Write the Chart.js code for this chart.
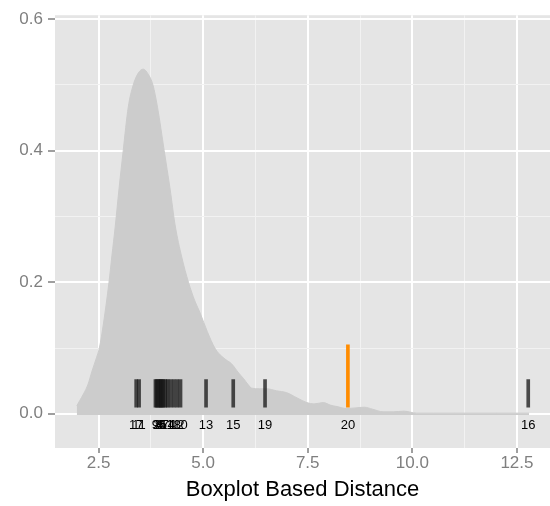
<!DOCTYPE html>
<html><head><meta charset="utf-8">
<script src="https://cdn.jsdelivr.net/npm/chart.js@4.4.0/dist/chart.umd.min.js"></script>
<style>html,body{margin:0;padding:0;background:#fff;} #wrap{width:550px;height:506px;}</style>
</head><body><div id="wrap"><canvas id="c" width="550" height="506"></canvas></div>
<script>
// ---- data ----
const densityX = [1.98, 2.05, 2.14, 2.25, 2.34, 2.45, 2.52, 2.62, 2.75, 2.82, 2.90, 2.99, 3.09, 3.21, 3.33, 3.45, 3.57, 3.68, 3.80, 3.91, 4.07, 4.21, 4.33, 4.49, 4.65, 4.80, 4.93, 5.10, 5.28, 5.40, 5.55, 5.68, 5.85, 5.96, 6.08, 6.16, 6.35, 6.52, 6.75, 7.00, 7.25, 7.48, 7.65, 7.87, 8.05, 8.20, 8.43, 8.65, 8.85, 9.05, 9.30, 9.55, 9.80, 10.10, 10.50, 11.00, 11.50, 12.00, 12.50, 12.79];
const densityY = [0.012, 0.020, 0.030, 0.045, 0.064, 0.085, 0.100, 0.138, 0.200, 0.240, 0.285, 0.342, 0.400, 0.466, 0.500, 0.518, 0.524, 0.517, 0.500, 0.466, 0.400, 0.342, 0.287, 0.238, 0.200, 0.172, 0.153, 0.125, 0.100, 0.090, 0.082, 0.076, 0.062, 0.054, 0.044, 0.039, 0.038, 0.038, 0.035, 0.032, 0.024, 0.017, 0.015, 0.017, 0.013, 0.011, 0.008, 0.009, 0.010, 0.007, 0.003, 0.003, 0.004, 0.001, 0.001, 0.001, 0.001, 0.001, 0.001, 0.001];

const rugLabels = ['17', '11', '9', '2', '8', '4', '3', '6', '5', '7', '14', '1', '18', '12', '10', '13', '15', '19', '20', '16'];
const rugValues = [3.40, 3.47, 3.86, 3.89, 3.93, 3.96, 3.99, 4.02, 4.05, 4.10, 4.15, 4.22, 4.30, 4.38, 4.46, 5.07, 5.72, 6.48, 8.46, 12.77];
const rugTops   = [0.052, 0.052, 0.052, 0.052, 0.052, 0.052, 0.052, 0.052, 0.052, 0.052, 0.052, 0.052, 0.052, 0.052, 0.052, 0.052, 0.052, 0.052, 0.105, 0.052];
const rugBottom = 0.01;
const rugLabelY = -0.017;
const highlightLabel = '20';

const xMajorTicks = [2.5, 5.0, 7.5, 10.0, 12.5];
const xMinorTicks = [3.75, 6.25, 8.75, 11.25];
const yMajorTicks = [0.0, 0.2, 0.4, 0.6];
const yMinorTicks = [0.1, 0.3, 0.5];
const xRange = [1.46, 13.29];
const yRange = [-0.052, 0.606];
const xTitle = 'Boxplot Based Distance';

// ---- chart ----
Chart.defaults.font.family = '"Liberation Sans", Arial, sans-serif';
const isIn = (v, list) => list.some(m => Math.abs(m - v) < 1e-9);

const densityData = densityX.map((x, i) => ({x: x, y: densityY[i]}));
const rugData = rugValues.map((x, i) => ({x: x, y: [rugBottom, rugTops[i]]}));

const panelBg = {
  id: 'panelBg',
  beforeDraw(chart) {
    const {ctx, chartArea: a} = chart;
    ctx.save();
    ctx.fillStyle = '#e5e5e5';
    ctx.fillRect(a.left, a.top, a.right - a.left, a.bottom - a.top);
    ctx.restore();
  }
};
const rugText = {
  id: 'rugText',
  afterDatasetsDraw(chart) {
    const {ctx, scales: {x, y}} = chart;
    ctx.save();
    ctx.font = '13px "Liberation Sans", Arial, sans-serif';
    ctx.fillStyle = '#000';
    ctx.textAlign = 'center';
    ctx.textBaseline = 'middle';
    rugLabels.forEach((t, i) => ctx.fillText(t, x.getPixelForValue(rugValues[i]), y.getPixelForValue(rugLabelY)));
    ctx.restore();
  }
};

const gridOpts = (major) => ({
  color: c => isIn(c.tick.value, major) ? '#ffffff' : '#f2f2f2',
  lineWidth: c => isIn(c.tick.value, major) ? 2 : 1,
  tickColor: c => isIn(c.tick.value, major) ? '#7f7f7f' : 'rgba(0,0,0,0)',
  tickWidth: 1.5,
  offset: false,
  drawOnChartArea: true
});

new Chart(document.getElementById('c'), {
  type: 'line',
  data: {
    datasets: [
      {
        type: 'line', data: densityData, order: 2,
        borderColor: 'rgb(204,204,204)', borderWidth: 1,
        backgroundColor: 'rgb(204,204,204)',
        fill: {value: -0.002}, pointRadius: 0,
        cubicInterpolationMode: 'monotone'
      },
      {
        type: 'bar', data: rugData, order: 1,
        backgroundColor: rugLabels.map(l => l === highlightLabel ? '#ff8c00' : 'rgba(20,20,20,0.75)'),
        borderWidth: 0, barThickness: 3
      }
    ]
  },
  options: {
    responsive: false, animation: false, devicePixelRatio: 1, events: [],
    layout: {padding: {top: 6, right: 0, left: 0, bottom: 0}},
    plugins: {legend: {display: false}, tooltip: {enabled: false}},
    scales: {
      x: {
        type: 'linear', min: xRange[0], max: xRange[1], offset: false,
        afterBuildTicks: s => { s.ticks = [...xMajorTicks, ...xMinorTicks].sort((a, b) => a - b).map(v => ({value: v})); },
        afterFit: s => { s.height = 58; },
        border: {display: false},
        grid: Object.assign(gridOpts(xMajorTicks), {tickLength: 5}),
        ticks: {
          autoSkip: false, maxRotation: 0, padding: 0, color: '#7f7f7f', font: {size: 17},
          callback: v => isIn(v, xMajorTicks) ? v.toFixed(1) : ''
        },
        title: {display: true, text: xTitle, color: '#000', font: {size: 22}, padding: {top: 0, bottom: 3}}
      },
      y: {
        type: 'linear', min: yRange[0], max: yRange[1], beginAtZero: false,
        afterBuildTicks: s => { s.ticks = [...yMajorTicks, ...yMinorTicks].sort((a, b) => a - b).map(v => ({value: v})); },
        afterFit: s => { s.width = 55; },
        border: {display: false},
        grid: Object.assign(gridOpts(yMajorTicks), {tickLength: 7}),
        ticks: {
          autoSkip: false, padding: 5, color: '#7f7f7f', font: {size: 17},
          callback: v => isIn(v, yMajorTicks) ? v.toFixed(1) : ''
        }
      }
    }
  },
  plugins: [panelBg, rugText]
});
</script>
</body></html>
